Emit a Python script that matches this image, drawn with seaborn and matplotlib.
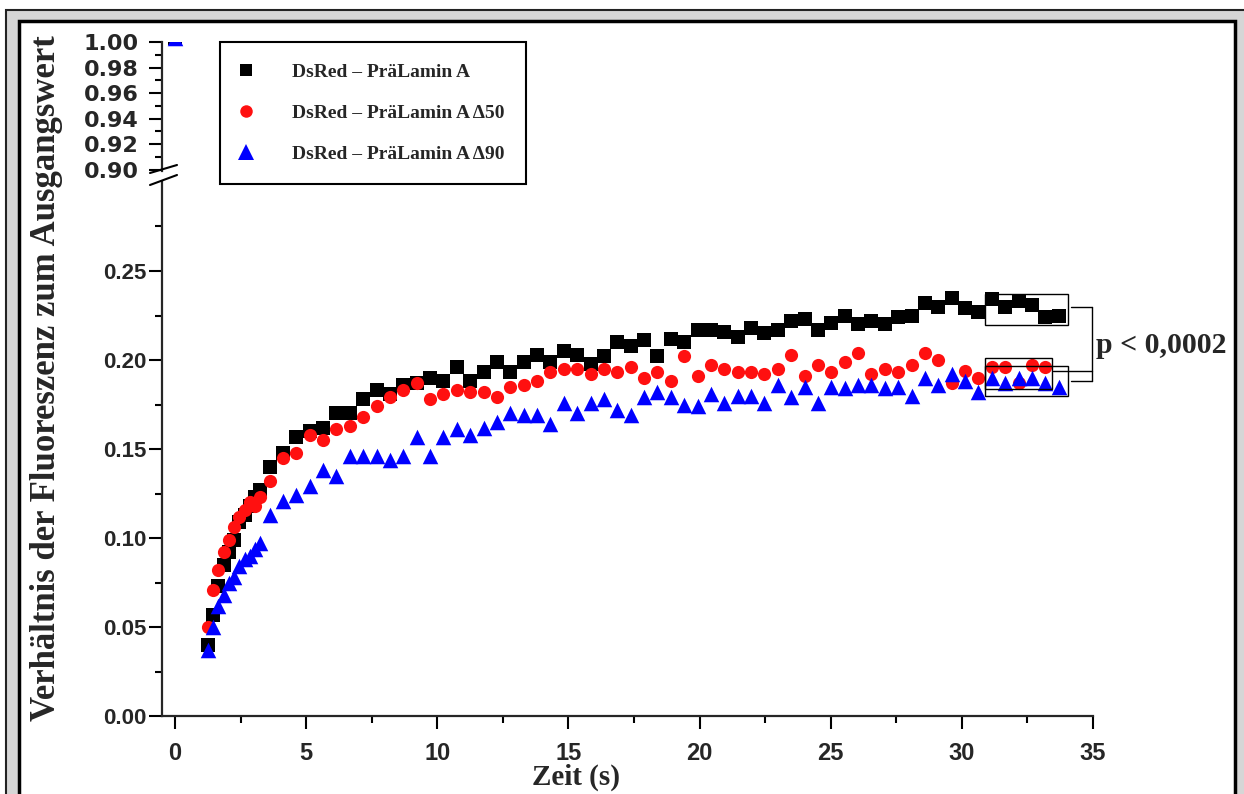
import matplotlib
matplotlib.use("Agg")
import matplotlib.pyplot as plt
import numpy as np
import pandas as pd
import seaborn as sns
from matplotlib.lines import Line2D
from matplotlib.patches import Rectangle

# Zeitpunkte (s)
zeit_start = [0.0]
zeit_frueh = [1.25, 1.45, 1.65, 1.85, 2.05, 2.25, 2.45, 2.65, 2.85, 3.05, 3.25]
zeit_spaet = [3.60, 4.11, 4.62, 5.13, 5.64, 6.15, 6.66, 7.17, 7.68, 8.19,
              8.70, 9.21, 9.72, 10.23, 10.74, 11.25, 11.76, 12.27, 12.78, 13.29,
              13.80, 14.31, 14.82, 15.33, 15.84, 16.35, 16.86, 17.37, 17.88, 18.39,
              18.90, 19.41, 19.92, 20.43, 20.94, 21.45, 21.96, 22.47, 22.98, 23.49,
              24.00, 24.51, 25.02, 25.53, 26.04, 26.55, 27.06, 27.57, 28.08, 28.59,
              29.10, 29.61, 30.12, 30.63, 31.14, 31.65, 32.16, 32.67, 33.18, 33.69]

# Werte DsRed - PraeLamin A (schwarz)
wert_start_a = [1.003]
wert_frueh_a = [0.040, 0.057, 0.073, 0.085, 0.092, 0.099, 0.109, 0.113, 0.118, 0.123, 0.127]
wert_spaet_a = [0.140, 0.148, 0.157, 0.160, 0.162, 0.170, 0.170, 0.178, 0.183, 0.181,
                0.186, 0.187, 0.190, 0.188, 0.196, 0.188, 0.193, 0.199, 0.193, 0.199,
                0.203, 0.199, 0.205, 0.203, 0.198, 0.202, 0.210, 0.208, 0.211, 0.202,
                0.212, 0.210, 0.217, 0.217, 0.216, 0.213, 0.218, 0.215, 0.217, 0.222,
                0.223, 0.217, 0.221, 0.225, 0.220, 0.222, 0.220, 0.224, 0.225, 0.232,
                0.230, 0.235, 0.229, 0.227, 0.234, 0.230, 0.233, 0.231, 0.224, 0.225]

# Werte Delta50 (rot)
wert_start_b = [1.003]
wert_frueh_b = [0.050, 0.071, 0.082, 0.092, 0.099, 0.106, 0.112, 0.116, 0.120, 0.118, 0.123]
wert_spaet_b = [0.132, 0.145, 0.148, 0.158, 0.155, 0.161, 0.163, 0.168, 0.174, 0.179,
                0.183, 0.187, 0.178, 0.181, 0.183, 0.182, 0.182, 0.179, 0.185, 0.186,
                0.188, 0.193, 0.195, 0.195, 0.192, 0.195, 0.193, 0.196, 0.190, 0.193,
                0.188, 0.202, 0.191, 0.197, 0.195, 0.193, 0.193, 0.192, 0.195, 0.203,
                0.191, 0.197, 0.193, 0.199, 0.204, 0.192, 0.195, 0.193, 0.197, 0.204,
                0.200, 0.187, 0.194, 0.190, 0.196, 0.196, 0.187, 0.197, 0.196]

# Werte Delta90 (blau)
wert_start_c = [1.003]
wert_frueh_c = [0.037, 0.050, 0.062, 0.068, 0.075, 0.078, 0.084, 0.088, 0.090, 0.094, 0.097]
wert_spaet_c = [0.113, 0.121, 0.124, 0.129, 0.138, 0.135, 0.146, 0.146, 0.146, 0.144,
                0.146, 0.157, 0.146, 0.157, 0.161, 0.158, 0.162, 0.165, 0.170, 0.169,
                0.169, 0.164, 0.176, 0.170, 0.176, 0.178, 0.172, 0.169, 0.179, 0.182,
                0.179, 0.175, 0.174, 0.181, 0.176, 0.180, 0.180, 0.176, 0.186, 0.179,
                0.185, 0.176, 0.185, 0.184, 0.186, 0.186, 0.184, 0.185, 0.180, 0.190,
                0.186, 0.192, 0.188, 0.182, 0.190, 0.187, 0.190, 0.190, 0.187, 0.185]

namen = ["DsRed \u2013 PräLamin A", "DsRed \u2013 PräLamin A \u039450", "DsRed \u2013 PräLamin A \u039490"]
farben = ["black", "#ff1010", "#0000ff"]
marker = ["s", "o", "^"]
groessen = [95, 90, 125]

reihen = []
for name, ws, wf, wsp in [(namen[0], wert_start_a, wert_frueh_a, wert_spaet_a),
                          (namen[1], wert_start_b, wert_frueh_b, wert_spaet_b),
                          (namen[2], wert_start_c, wert_frueh_c, wert_spaet_c)]:
    werte = ws + wf + wsp
    zeiten = (zeit_start + zeit_frueh + zeit_spaet)[:len(werte)]
    reihen.append(pd.DataFrame({"Zeit": zeiten, "Wert": werte, "Probe": name}))
daten = pd.concat(reihen, ignore_index=True)

sns.set_theme(style="white")
plt.rcParams["font.family"] = ["Liberation Sans", "DejaVu Sans"]

W, H = 1244, 794
fig = plt.figure(figsize=(W / 100, H / 100), dpi=100)

# grauer Rahmen
fig.add_artist(Rectangle((6 / W, -0.1), 1.2, 1.1 - 10 / H, transform=fig.transFigure,
                         facecolor="#d6d6d6", edgecolor="#222222", lw=1.5, zorder=-10))
fig.add_artist(Rectangle((19 / W, -0.1), (1235 - 19) / W, 1.1 - 21 / H, transform=fig.transFigure,
                         facecolor="white", edgecolor="black", lw=2.5, zorder=-9))

links, rechts = 162, 1093
ax = fig.add_axes([links / W, 1 - 716 / H, (rechts - links) / W, (716 - 182) / H])
ax_oben = fig.add_axes([links / W, 1 - 171 / H, (rechts - links) / W, (171 - 42) / H], sharex=ax)

for a in (ax, ax_oben):
    a.patch.set_alpha(0)
    for i in range(3):
        teil = daten[daten["Probe"] == namen[i]]
        sns.scatterplot(data=teil, x="Zeit", y="Wert", ax=a, color=farben[i], marker=marker[i],
                        s=groessen[i], linewidth=0, legend=False)

ax.set_xlim(-0.5, 35)
ax.set_ylim(0, 0.30)
ax_oben.set_ylim(0.899, 1.0)

for a in (ax, ax_oben):
    a.spines["top"].set_visible(False)
    a.spines["right"].set_visible(False)
    a.spines["left"].set_linewidth(1.6)
    a.spines["bottom"].set_linewidth(1.6)
    a.tick_params(which="major", direction="out", length=9.5, width=1.5, color="black")
    a.tick_params(which="minor", direction="out", length=5, width=1.5, color="black")
    a.set_xlabel("")
    a.set_ylabel("")
ax_oben.spines["bottom"].set_visible(False)
ax_oben.tick_params(axis="x", which="both", bottom=False, labelbottom=False)

ax.set_xticks([0, 5, 10, 15, 20, 25, 30, 35])
ax.set_xticks([2.5, 7.5, 12.5, 17.5, 22.5, 27.5, 32.5], minor=True)
ax.set_yticks([0.00, 0.05, 0.10, 0.15, 0.20, 0.25])
ax.set_yticks([0.025, 0.075, 0.125, 0.175, 0.225, 0.275], minor=True)
ax.set_yticklabels(["0.00", "0.05", "0.10", "0.15", "0.20", "0.25"])
ax.tick_params(axis="x", which="both", bottom=True, pad=9)
ax.tick_params(axis="y", which="both", left=True, pad=2)
for lab in ax.get_xticklabels():
    lab.set_fontweight("bold")
    lab.set_fontsize(17)
for lab in ax.get_yticklabels():
    lab.set_fontweight("bold")
    lab.set_fontsize(16)

ax_oben.set_yticks([0.90, 0.92, 0.94, 0.96, 0.98, 1.00])
ax_oben.set_yticks([0.91, 0.93, 0.95, 0.97, 0.99], minor=True)
ax_oben.set_yticklabels(["0.90", "0.92", "0.94", "0.96", "0.98", "1.00"])
ax_oben.tick_params(axis="y", which="both", left=True, pad=7)
for lab in ax_oben.get_yticklabels():
    lab.set_fontweight("bold")
    lab.set_fontsize(16)
    lab.set_family("DejaVu Sans")

# Achsenbruch
for y0, y1 in [(173, 165), (185, 175)]:
    fig.add_artist(Line2D([150 / W, 177 / W], [1 - y0 / H, 1 - y1 / H], color="black", lw=1.5,
                          transform=fig.transFigure))

serif = {"family": "Liberation Serif", "weight": "bold"}
ax.set_xlabel("Zeit (s)", fontdict=dict(serif, size=21))
ax.xaxis.set_label_coords((576 - links) / (rechts - links), (716 - 764) / (716 - 182))
ax.xaxis.label.set_va("top")
ax.set_ylabel("Verhältnis der Fluoreszenz zum Ausgangswert", fontdict=dict(serif, size=25))
ax.yaxis.set_label_coords((63 - links) / (rechts - links), (716 - 378) / (716 - 182))

# Kaestchen um die letzten Punkte
kaesten = [(30.88, 0.2197, 34.04, 0.2370), (30.88, 0.1837, 33.43, 0.2011), (30.88, 0.1798, 34.04, 0.1966)]
for x0, y0, x1, y1 in kaesten:
    ax.add_patch(Rectangle((x0, y0), x1 - x0, y1 - y0, fill=False, edgecolor="black", lw=1.0, zorder=5))
klammer_x = 34.96
ax.plot([34.16, klammer_x], [0.2298, 0.2298], color="black", lw=1.0, clip_on=False)
ax.plot([33.47, klammer_x], [0.1938, 0.1938], color="black", lw=1.0, clip_on=False)
ax.plot([34.16, klammer_x], [0.1882, 0.1882], color="black", lw=1.0, clip_on=False)
ax.plot([klammer_x, klammer_x], [0.1882, 0.2298], color="black", lw=1.0, clip_on=False)
ax.text(35.1, 0.2080, "p < 0,0002", fontdict={"family": "Liberation Serif", "weight": "bold", "size": 21.5},
        va="center", ha="left", clip_on=False)

griffe = [Line2D([], [], color=farben[i], marker=marker[i], linestyle="none",
                 markersize=[9, 9, 11][i], markeredgewidth=0) for i in range(3)]
leg = fig.legend(griffe, namen, loc="upper left", bbox_to_anchor=(220 / W, 1 - 42 / H),
                 frameon=True, fancybox=False, edgecolor="black", framealpha=1,
                 prop={"family": "Liberation Serif", "weight": "bold", "size": 14},
                 handlelength=0.5, handletextpad=2.1, borderpad=1.1, labelspacing=1.2,
                 borderaxespad=0)
leg.get_frame().set_linewidth(1.5)

fig.savefig("out.png", dpi=100)
